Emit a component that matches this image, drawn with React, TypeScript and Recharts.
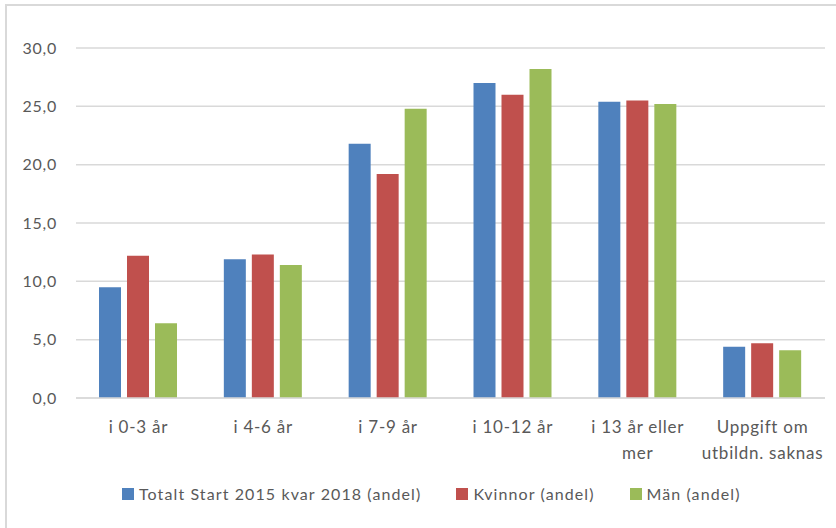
import React from "react";
import { BarChart, Bar, XAxis, YAxis, CartesianGrid } from "recharts";

const categories = ["i 0-3 år", "i 4-6 år", "i 7-9 år", "i 10-12 år", "i 13 år eller mer", "Uppgift om utbildn. saknas"];
const totalt = [9.5, 11.9, 21.8, 27.0, 25.4, 4.4];
const kvinnor = [12.2, 12.3, 19.2, 26.0, 25.5, 4.7];
const man = [6.4, 11.4, 24.8, 28.2, 25.2, 4.1];
const yTicks = [0, 5, 10, 15, 20, 25, 30];

const seriesNames = ["Totalt Start 2015 kvar 2018 (andel)", "Kvinnor (andel)", "Män (andel)"];
const colors = ["#4F81BD", "#C0504D", "#9BBB59"];

const data = categories.map((c, i) => ({ name: c, totalt: totalt[i], kvinnor: kvinnor[i], man: man[i] }));

const FONT = "Lato, 'Open Sans', sans-serif";
const TEXT = "#595959";

function wrap(s: string, maxChars: number): string[] {
  const words = s.split(" ");
  const lines: string[] = [];
  let cur = "";
  for (const w of words) {
    const cand = cur ? cur + " " + w : w;
    if (cand.length > maxChars && cur) {
      lines.push(cur);
      cur = w;
    } else {
      cur = cand;
    }
  }
  if (cur) lines.push(cur);
  return lines;
}

const XTick = (props: any) => {
  const { x, y, payload } = props;
  const lines = wrap(String(payload.value), 15);
  return (
    <text
      x={x}
      y={y}
      textAnchor="middle"
      fill={TEXT}
      style={{ fontFamily: FONT, fontSize: 17, letterSpacing: 0.75 }}
    >
      {lines.map((l, i) => (
        <tspan key={i} x={x} dy={i === 0 ? 23 : 26}>
          {l}
        </tspan>
      ))}
    </text>
  );
};

export default function App() {
  return (
    <div style={{ position: "absolute", left: 0, top: 0, width: 836, height: 528, overflow: "hidden", background: "#fff" }}>
      <div
        style={{
          position: "absolute",
          left: 5,
          top: 4,
          width: 860,
          height: 560,
          border: "2px solid #d9d9d9",
          boxSizing: "border-box",
        }}
      />
      <div style={{ position: "absolute", left: 0, top: 0 }}>
        <BarChart
          width={836}
          height={528}
          data={data}
          margin={{ top: 48, right: 11, bottom: 100, left: 0 }}
          barSize={22}
          barGap={6}
        >
          <CartesianGrid vertical={false} stroke="#d9d9d9" strokeWidth={1.5} />
          <XAxis
            dataKey="name"
            height={30}
            interval={0}
            tickLine={false}
            axisLine={{ stroke: "#d9d9d9", strokeWidth: 1.5 }}
            tickSize={0}
            tickMargin={12}
            tick={<XTick />}
          />
          <YAxis
            width={76}
            domain={[0, 30]}
            ticks={yTicks}
            axisLine={false}
            tickLine={false}
            tickSize={0}
            tickMargin={19}
            tickFormatter={(v: number) => v.toFixed(1).replace(".", ",")}
            tick={{ fill: TEXT, fontSize: 16, fontFamily: FONT, letterSpacing: 0.75 }}
          />
          <Bar dataKey="totalt" name={seriesNames[0]} fill={colors[0]} isAnimationActive={false} />
          <Bar dataKey="kvinnor" name={seriesNames[1]} fill={colors[1]} isAnimationActive={false} />
          <Bar dataKey="man" name={seriesNames[2]} fill={colors[2]} isAnimationActive={false} />
        </BarChart>
      </div>
      <div
        style={{
          position: "absolute",
          left: 122,
          top: 482,
          display: "flex",
          fontFamily: FONT,
          fontSize: 16,
          letterSpacing: 1.1,
          color: TEXT,
          lineHeight: "24px",
          whiteSpace: "nowrap",
        }}
      >
        {seriesNames.map((n, i) => (
          <div key={n} style={{ display: "flex", alignItems: "center", marginLeft: i === 0 ? 0 : 35 }}>
            <span style={{ display: "inline-block", width: 12, height: 12, background: colors[i], marginRight: 5 }} />
            <span>{n}</span>
          </div>
        ))}
      </div>
    </div>
  );
}
